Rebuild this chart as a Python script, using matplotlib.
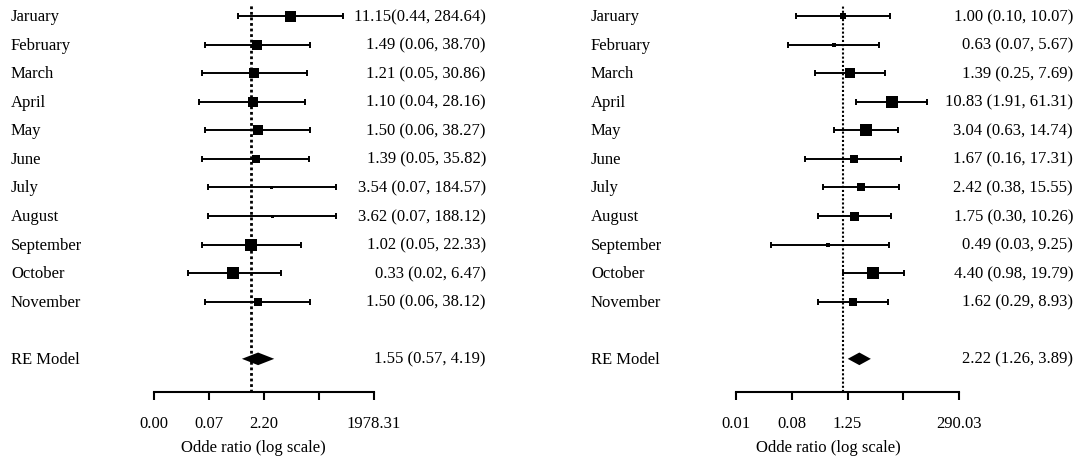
import numpy as np
import matplotlib
matplotlib.use('Agg')
import matplotlib.pyplot as plt
from matplotlib.ticker import NullLocator
import matplotlib.transforms as mtransforms

plt.rcParams['font.family'] = ['Liberation Serif', 'DejaVu Serif']
plt.rcParams['font.size'] = 12

# data
months = ['Jaruary', 'February', 'March', 'April', 'May', 'June', 'July',
          'August', 'September', 'October', 'November']

left_or = [11.15, 1.49, 1.21, 1.10, 1.50, 1.39, 3.54, 3.62, 1.02, 0.33, 1.50]
left_lo = [0.44, 0.06, 0.05, 0.04, 0.06, 0.05, 0.07, 0.07, 0.05, 0.02, 0.06]
left_hi = [284.64, 38.70, 30.86, 28.16, 38.27, 35.82, 184.57, 188.12, 22.33, 6.47, 38.12]
left_wt = [11, 9.5, 10, 10, 10.5, 7.5, 3, 3, 12, 12, 8.5]  # relative weights (%)
left_re = (1.55, 0.57, 4.19)
left_ticks_ln = [-6.01, -2.61, 0.79, 4.19, 7.59]
left_ticklabels = ['0.00', '0.07', '2.20', '', '1978.31']

right_or = [1.00, 0.63, 1.39, 10.83, 3.04, 1.67, 2.42, 1.75, 0.49, 4.40, 1.62]
right_lo = [0.10, 0.07, 0.25, 1.91, 0.63, 0.16, 0.38, 0.30, 0.03, 0.98, 0.29]
right_hi = [10.07, 5.67, 7.69, 61.31, 14.74, 17.31, 15.55, 10.26, 9.25, 19.79, 8.93]
right_wt = [6.5, 4.5, 9.5, 12, 12.5, 8.5, 8.5, 9, 4.5, 12.5, 8.5]
right_re = (2.22, 1.26, 3.89)
right_ticks_ln = [-5.22, -2.50, 0.223, 2.95, 5.67]
right_ticklabels = ['0.01', '0.08', '1.25', '', '290.03']

W, H = 1075, 464
DPI = 100
ROW_PX = 28.57      # vertical distance between study rows
TOP_ROW_PX = 17     # pixel y of the first study row


def row_at(py):
    # convert a pixel y position into row units (row 11 = first study)
    return len(months) - (py - TOP_ROW_PX) / ROW_PX


def fmt(o, l, h):
    return '%.2f (%.2f, %.2f)' % (o, l, h)


def forest(ax, ors, los, his, wts, re, ticks_ln, ticklabels,
           one_px, px_per_ln, ax_left_px, lab_px, txt_px, xlab_px, dot_lw, txts):
    ax_w = W / 2
    lo_ln = -(one_px - ax_left_px) / px_per_ln
    ax.set_xscale('log')
    ax.set_xlim(np.exp(lo_ln), np.exp(lo_ln + ax_w / px_per_ln))
    ax.set_ylim(row_at(H), row_at(0))

    rows = np.arange(len(months), 0, -1)
    ors = np.array(ors)
    err = [ors - np.array(los), np.array(his) - ors]
    ax.errorbar(ors, rows, xerr=err, fmt='none', ecolor='black',
                elinewidth=1.4, capsize=2.4, capthick=1.4, zorder=2)
    for o, r, w in zip(ors, rows, wts):
        ax.plot(o, r, marker='s', color='black', markersize=w * 72 / DPI,
                markeredgewidth=0, zorder=3)

    # summary diamond
    est, l, h = re
    re_row = -1
    dh = 6.3 / ROW_PX
    ax.fill([l, est, h, est], [re_row, re_row + dh, re_row, re_row - dh],
            color='black', lw=0, zorder=3)

    axis_row = row_at(393)
    ax.plot([1, 1], [axis_row, row_at(6)], color='black', lw=dot_lw,
            linestyle=(0, (1, 1)), zorder=1)

    # axis
    for s in ['top', 'right', 'left']:
        ax.spines[s].set_visible(False)
    ticks = np.exp(ticks_ln)
    ax.spines['bottom'].set_position(('data', axis_row))
    ax.spines['bottom'].set_bounds(ticks[0], ticks[-1])
    ax.spines['bottom'].set_linewidth(1.5)
    ax.set_xticks(ticks)
    ax.set_xticklabels(ticklabels)
    ax.xaxis.set_minor_locator(NullLocator())
    ax.tick_params(axis='x', direction='out', length=5.5, width=1.5, pad=11,
                   labelsize=12)
    ax.set_yticks([])

    trans = mtransforms.blended_transform_factory(ax.transAxes, ax.transData)
    tx = lambda px: (px - ax_left_px) / ax_w
    for r, m, t in zip(rows, months, txts):
        ax.text(tx(lab_px), r, m, transform=trans, ha='left', va='center')
        ax.text(tx(txt_px), r, t, transform=trans, ha='right', va='center')
    ax.text(tx(lab_px), re_row, 'RE Model', transform=trans, ha='left', va='center')
    ax.text(tx(txt_px), re_row, fmt(*re), transform=trans, ha='right', va='center')
    ax.text(tx(xlab_px), row_at(448), 'Odde ratio (log scale)', transform=trans,
            ha='center', va='center')


fig = plt.figure(figsize=(W / DPI, H / DPI), dpi=DPI)
ax1 = fig.add_axes([0, 0, 0.5, 1])
ax2 = fig.add_axes([0.5, 0, 0.5, 1])

left_txt = [fmt(o, l, h) for o, l, h in zip(left_or, left_lo, left_hi)]
left_txt[0] = left_txt[0].replace(' (', '(')
right_txt = [fmt(o, l, h) for o, l, h in zip(right_or, right_lo, right_hi)]

forest(ax1, left_or, left_lo, left_hi, left_wt, left_re, left_ticks_ln,
       left_ticklabels, one_px=251, px_per_ln=16.2, ax_left_px=0,
       lab_px=11, txt_px=486, xlab_px=253, dot_lw=2.0, txts=left_txt)
forest(ax2, right_or, right_lo, right_hi, right_wt, right_re, right_ticks_ln,
       right_ticklabels, one_px=843, px_per_ln=20.5, ax_left_px=W / 2,
       lab_px=591, txt_px=1073, xlab_px=828, dot_lw=1.5, txts=right_txt)

fig.savefig('out.png', dpi=DPI)
